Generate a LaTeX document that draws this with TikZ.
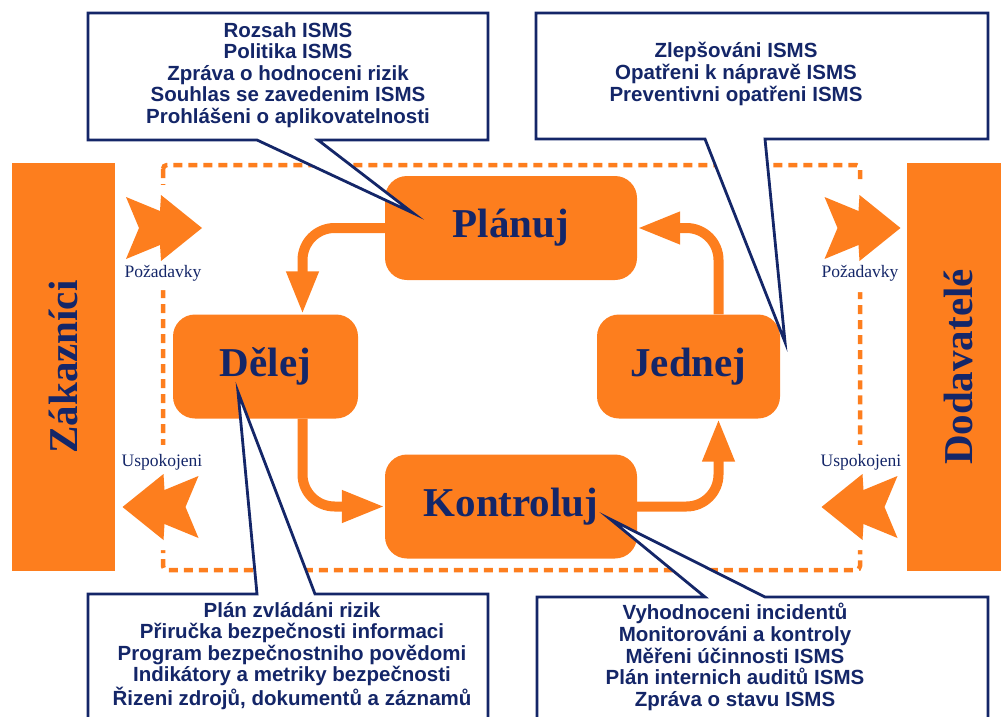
\documentclass[tikz,border=0pt]{standalone}
\usepackage{fontspec}
\setmainfont{Liberation Serif}
\newfontfamily\calloutfont{Liberation Sans}
\usetikzlibrary{arrows.meta}
\definecolor{Oorange}{RGB}{253,126,30}
\definecolor{Nnavy}{RGB}{20,38,104}
\newcommand{\drawchevron}[3][1]{
\fill[Oorange, shift={(#2,#3)}, xscale=#1] (-38,-31) -- (-4,-17) -- (-3,-33) -- (38,0) -- (-3,33) -- (-4,17) -- (-38,31) -- (-25,0) -- cycle;
}

\begin{document}
\begin{tikzpicture}[x=1pt, y=-1pt,
  phase/.style={fill=Oorange, rounded corners=22pt, minimum height=104pt, text=Nnavy, font=\bfseries\fontsize{41}{41}\selectfont},
  sidebar/.style={fill=Oorange, rotate=90, minimum height=103pt, text=Nnavy, font=\bfseries\fontsize{41}{41}\selectfont},
  cyc/.style={draw=Oorange, line width=10pt, rounded corners=32pt, -{Triangle[length=43pt, width=30pt]}},
  callout/.style={fill=white, draw=Nnavy, line width=2.8pt},
  calltext/.style={text=Nnavy, align=center, inner sep=0pt, font=\calloutfont\bfseries\fontsize{20.5}{21.6}\selectfont},
  flowlabel/.style={text=Nnavy, inner sep=1pt, font=\fontsize{17.5}{17.5}\selectfont}]
\useasboundingbox (0,0) rectangle (1001,717);

% customers and suppliers
\node[sidebar, minimum width=408pt] (zak) at (63.5,367) {Zákazníci};
\node[sidebar, minimum width=408pt] (dod) at (958,367) {Dodavatelé};

% organisation border
\draw[Oorange, line width=4.5pt, dash pattern=on 9pt off 6pt, rounded corners=4pt] (163,165) rectangle (860,570);
\fill[white] (150,185) rectangle (176,290) (150,445) rectangle (176,550);
\fill[white] (847,185) rectangle (873,292) (847,445) rectangle (873,550);

\drawchevron{164}{228}
\drawchevron[-1]{160.5}{507}
\drawchevron{862.5}{228}
\drawchevron[-1]{859.5}{507}
\node[flowlabel] (pozl) at (163,273) {Požadavky};
\node[flowlabel] (uspl) at (162,462) {Uspokojeni};
\node[flowlabel] (pozr) at (860,273) {Požadavky};
\node[flowlabel] (uspr) at (861,462) {Uspokojeni};

% PDCA
\node[phase, minimum width=252pt] (plan) at (511,228) {Plánuj};
\node[phase, minimum width=185pt] (dela) at (265.5,366.5) {Dělej};
\node[phase, minimum width=183pt] (jed) at (688.5,366.5) {Jednej};
\node[phase, minimum width=252pt] (kont) at (511,506.5) {Kontroluj};

\draw[cyc] (plan.west) -| ([xshift=37pt]dela.north);
\draw[cyc] ([xshift=37pt]dela.south) |- (kont.west);
\draw[cyc] (kont.east) -| ([xshift=30pt]jed.south);
\draw[cyc] ([xshift=30pt]jed.north) |- (plan.east);

% callouts
\coordinate (tipplan) at (413,213);
\coordinate (tipjed) at (785,342);
\coordinate (tipdela) at (238,392);
\coordinate (tipkont) at (610,519);
\draw[callout] (88,13) -- (488,13) -- (488,140) -- (318,140) -- (tipplan) -- (257,140) -- (88,140) -- cycle;
\draw[callout] (536,13) -- (988,13) -- (988,139) -- (765,139) -- (tipjed) -- (705,139) -- (536,139) -- cycle;
\draw[callout] (88,722) -- (88,594) -- (257,594) -- (tipdela) -- (315,594) -- (488,594) -- (488,722);
\draw[callout] (537,722) -- (537,597) -- (705,597) -- (tipkont) -- (765,597) -- (988,597) -- (988,722);

\node[calltext] (plantext) at (288,75) {Rozsah ISMS\\Politika ISMS\\Zpráva o hodnoceni rizik\\Souhlas se zavedenim ISMS\\Prohlášeni o aplikovatelnosti};
\node[calltext] (jedtext) at (736,74) {Zlepšováni ISMS\\Opatřeni k nápravě ISMS\\Preventivni opatřeni ISMS};
\node[calltext] (delatext) at (292,656) {Plán zvládáni rizik\\Přiručka bezpečnosti informaci\\Program bezpečnostniho povědomi\\Indikátory a metriky bezpečnosti\\Řizeni zdrojů, dokumentů a záznamů};
\node[calltext] (konttext) at (735,657) {Vyhodnoceni incidentů\\Monitorováni a kontroly\\Měřeni účinnosti ISMS\\Plán internich auditů ISMS\\Zpráva o stavu ISMS};
\end{tikzpicture}
\end{document}
